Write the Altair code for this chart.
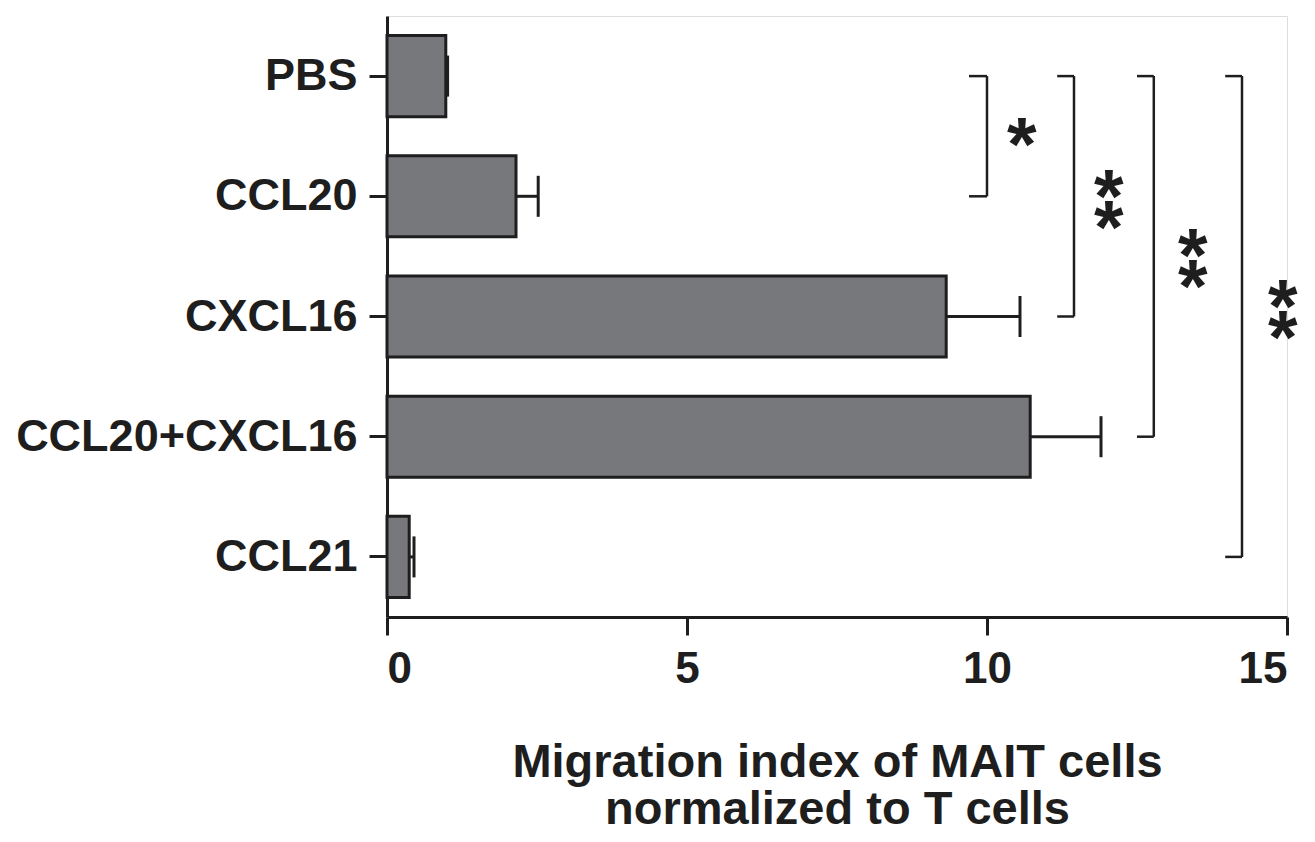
import altair as alt
import pandas as pd

# ---- data ----
categories = ["PBS", "CCL20", "CXCL16", "CCL20+CXCL16", "CCL21"]
means = [0.98, 2.15, 9.32, 10.72, 0.37]
errors = [0.03, 0.37, 1.23, 1.18, 0.08]

# significance brackets (PBS vs. each group)
bracket_from = ["PBS", "PBS", "PBS", "PBS"]
bracket_to = ["CCL20", "CXCL16", "CCL20+CXCL16", "CCL21"]
bracket_x = [10.0, 11.45, 12.78, 14.25]
bracket_arm = [9.7, 11.17, 12.5, 13.97]

# significance stars: x in data units, y in category-index units (0 = PBS)
single_star_x = [10.58]
single_star_y = [0.49]
double_star_x = [12.03, 13.43, 14.93]
double_star_y = [1.02, 1.51, 1.94]

x_ticks = [0, 5, 10, 15]
x_title = ["Migration index of MAIT cells", "normalized to T cells"]

FONT = "Liberation Sans"
INK = "#1e1e1e"
BAR = "#77787c"

df = pd.DataFrame({"category": categories, "mean": means, "err": errors})
df["hi"] = df["mean"] + df["err"]

br = pd.DataFrame({"from": bracket_from, "to": bracket_to, "bx": bracket_x, "arm": bracket_arm})
arms = pd.concat([
    pd.DataFrame({"cat": bracket_from, "bx": bracket_x, "arm": bracket_arm}),
    pd.DataFrame({"cat": bracket_to, "bx": bracket_x, "arm": bracket_arm}),
])
s1 = pd.DataFrame({"label": ["*"] * len(single_star_x), "sx": single_star_x, "sy": single_star_y})
s2 = pd.DataFrame({"label": ["*\n*"] * len(double_star_x), "sx": double_star_x, "sy": double_star_y})

xscale = alt.Scale(domain=[0, 15], nice=False, zero=True)
yscale = alt.Scale(domain=categories, paddingInner=0.325, paddingOuter=0.1625)
idx_scale = alt.Scale(domain=[-0.5, 4.5], reverse=True, nice=False, zero=False)

x_axis = alt.Axis(
    values=x_ticks, format="d", title=x_title, grid=False,
    domainColor=INK, domainWidth=3, tickColor=INK, tickWidth=3, tickSize=18,
    labelFont=FONT, labelFontSize=44, labelFontWeight="bold", labelColor=INK, labelPadding=12,
    titleFont=FONT, titleFontSize=47, titleFontWeight="bold", titleColor=INK,
    titlePadding=48, titleLineHeight=47,
)
y_axis = alt.Axis(
    title=None, grid=False, labelLimit=0,
    domainColor=INK, domainWidth=3, tickColor=INK, tickWidth=3, tickSize=18,
    labelFont=FONT, labelFontSize=45, labelFontWeight="bold", labelColor=INK, labelPadding=12,
)

bars = alt.Chart(df).mark_bar(color=BAR, stroke=INK, strokeWidth=3).encode(
    x=alt.X("mean:Q", scale=xscale, axis=x_axis),
    y=alt.Y("category:N", sort=categories, scale=yscale, axis=y_axis),
)
err = alt.Chart(df).mark_rule(color=INK, strokeWidth=3).encode(
    x="mean:Q", x2="hi:Q", y=alt.Y("category:N", sort=categories),
)
caps = alt.Chart(df).mark_tick(color=INK, thickness=3, size=41, opacity=1).encode(
    x="hi:Q", y=alt.Y("category:N", sort=categories),
)
vlines = alt.Chart(br).mark_rule(color=INK, strokeWidth=2.5).encode(
    x="bx:Q", y=alt.Y("from:N", sort=categories), y2="to:N",
)
arm_lines = alt.Chart(arms).mark_rule(color=INK, strokeWidth=2.5).encode(
    x="arm:Q", x2="bx:Q", y=alt.Y("cat:N", sort=categories),
)
main = alt.layer(bars, err, caps, vlines, arm_lines)

star1 = alt.Chart(s1).mark_text(
    font=FONT, fontSize=76, fontWeight="bold", color=INK,
    align="center", baseline="middle", dy=12,
).encode(
    x=alt.X("sx:Q"),
    y=alt.Y("sy:Q", scale=idx_scale, axis=None),
    text="label:N",
)
star2 = alt.Chart(s2).mark_text(
    font=FONT, fontSize=76, fontWeight="bold", color=INK,
    align="center", baseline="middle", lineBreak="\n", lineHeight=31, dy=0,
).encode(
    x=alt.X("sx:Q"),
    y=alt.Y("sy:Q", scale=idx_scale, axis=None),
    text="label:N",
)

chart = alt.layer(main, star1, star2).resolve_scale(y="independent").properties(
    width=900, height=601,
    autosize=alt.AutoSizeParams(type="none"),
    padding={"left": 379, "top": 8, "right": 20, "bottom": 218},
).configure_view(stroke=None).configure(background="white")

chart.save("out.html", embed_options={"renderer": "svg", "actions": False})
